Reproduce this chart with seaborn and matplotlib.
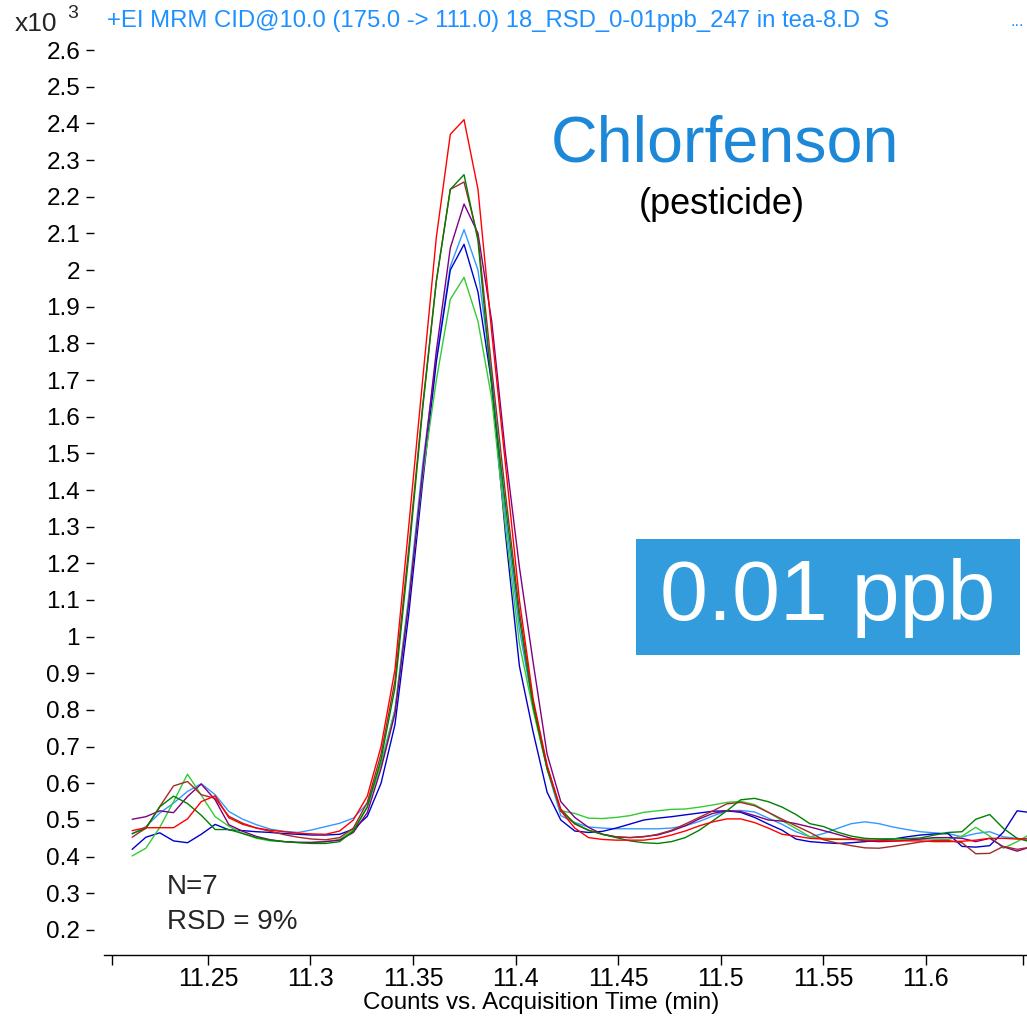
import matplotlib
matplotlib.use("Agg")
import matplotlib.pyplot as plt
from matplotlib.patches import Rectangle
import seaborn as sns
import pandas as pd

# acquisition times (min)
times = [11.2130, 11.2197, 11.2265, 11.2332, 11.2400, 11.2467, 11.2535, 11.2602, 11.2670, 11.2737,
         11.2805, 11.2872, 11.2940, 11.3007, 11.3074, 11.3142, 11.3209, 11.3277, 11.3344, 11.3412,
         11.3479, 11.3547, 11.3614, 11.3682, 11.3749, 11.3817, 11.3884, 11.3951, 11.4019, 11.4086,
         11.4154, 11.4221, 11.4289, 11.4356, 11.4424, 11.4491, 11.4559, 11.4626, 11.4693, 11.4761,
         11.4828, 11.4896, 11.4963, 11.5031, 11.5098, 11.5166, 11.5233, 11.5301, 11.5368, 11.5436,
         11.5503, 11.5570, 11.5638, 11.5705, 11.5773, 11.5840, 11.5908, 11.5975, 11.6043, 11.6110,
         11.6178, 11.6245, 11.6313, 11.6380, 11.6447, 11.6515]

# counts (x10^3), seven replicate injections
rep_lightblue = [0.462, 0.482, 0.519, 0.546, 0.578, 0.599, 0.569, 0.523, 0.502, 0.487,
                 0.475, 0.469, 0.466, 0.473, 0.482, 0.491, 0.505, 0.545, 0.655, 0.800,
                 1.110, 1.470, 1.760, 2.010, 2.110, 2.000, 1.710, 1.330, 1.020, 0.810,
                 0.640, 0.512, 0.493, 0.481, 0.478, 0.476, 0.476, 0.476, 0.476, 0.478,
                 0.484, 0.496, 0.511, 0.525, 0.526, 0.522, 0.505, 0.488, 0.468, 0.454,
                 0.463, 0.477, 0.490, 0.495, 0.490, 0.481, 0.474, 0.468, 0.465, 0.463,
                 0.454, 0.463, 0.468, 0.454, 0.450, 0.445]
rep_blue = [0.420, 0.453, 0.465, 0.443, 0.438, 0.461, 0.488, 0.473, 0.471, 0.468,
            0.466, 0.463, 0.461, 0.459, 0.459, 0.461, 0.475, 0.510, 0.600, 0.760,
            1.060, 1.420, 1.750, 2.000, 2.070, 1.940, 1.690, 1.280, 0.920, 0.740,
            0.576, 0.500, 0.470, 0.466, 0.469, 0.478, 0.489, 0.500, 0.505, 0.509,
            0.514, 0.519, 0.524, 0.525, 0.521, 0.507, 0.489, 0.472, 0.448, 0.441,
            0.438, 0.436, 0.438, 0.441, 0.445, 0.448, 0.454, 0.459, 0.462, 0.463,
            0.428, 0.426, 0.430, 0.467, 0.525, 0.520]
rep_lightgreen = [0.402, 0.423, 0.480, 0.550, 0.625, 0.568, 0.509, 0.483, 0.463, 0.450,
                  0.443, 0.441, 0.439, 0.438, 0.441, 0.447, 0.473, 0.536, 0.650, 0.800,
                  1.100, 1.440, 1.700, 1.920, 1.980, 1.860, 1.650, 1.300, 0.980, 0.800,
                  0.640, 0.525, 0.518, 0.505, 0.504, 0.507, 0.512, 0.521, 0.525, 0.529,
                  0.530, 0.535, 0.541, 0.548, 0.551, 0.542, 0.521, 0.498, 0.477, 0.454,
                  0.450, 0.449, 0.448, 0.448, 0.449, 0.449, 0.449, 0.448, 0.448, 0.447,
                  0.456, 0.480, 0.456, 0.423, 0.441, 0.463]
rep_purple = [0.502, 0.509, 0.525, 0.520, 0.564, 0.598, 0.555, 0.487, 0.469, 0.455,
              0.446, 0.441, 0.439, 0.439, 0.441, 0.445, 0.466, 0.520, 0.640, 0.790,
              1.090, 1.450, 1.780, 2.060, 2.180, 2.100, 1.860, 1.500, 1.190, 0.930,
              0.680, 0.550, 0.507, 0.480, 0.461, 0.454, 0.452, 0.455, 0.459, 0.470,
              0.484, 0.503, 0.518, 0.525, 0.523, 0.512, 0.500, 0.497, 0.490, 0.481,
              0.471, 0.461, 0.450, 0.443, 0.441, 0.442, 0.445, 0.448, 0.452, 0.452,
              0.450, 0.441, 0.450, 0.427, 0.415, 0.427]
rep_brown = [0.453, 0.478, 0.537, 0.593, 0.605, 0.569, 0.559, 0.510, 0.491, 0.478,
             0.469, 0.460, 0.453, 0.448, 0.446, 0.452, 0.478, 0.548, 0.680, 0.880,
             1.240, 1.630, 1.970, 2.220, 2.240, 2.090, 1.730, 1.390, 1.070, 0.820,
             0.645, 0.530, 0.489, 0.472, 0.461, 0.454, 0.452, 0.454, 0.461, 0.472,
             0.489, 0.507, 0.525, 0.544, 0.548, 0.539, 0.521, 0.502, 0.484, 0.466,
             0.446, 0.437, 0.430, 0.424, 0.423, 0.428, 0.434, 0.440, 0.444, 0.444,
             0.438, 0.408, 0.409, 0.428, 0.420, 0.426]
rep_darkgreen = [0.463, 0.477, 0.536, 0.565, 0.545, 0.513, 0.474, 0.474, 0.463, 0.452,
                 0.445, 0.441, 0.438, 0.436, 0.436, 0.441, 0.470, 0.535, 0.665, 0.860,
                 1.220, 1.620, 1.970, 2.220, 2.260, 2.080, 1.680, 1.360, 1.050, 0.810,
                 0.640, 0.525, 0.491, 0.472, 0.461, 0.452, 0.443, 0.438, 0.436, 0.441,
                 0.452, 0.472, 0.498, 0.525, 0.555, 0.559, 0.550, 0.535, 0.515, 0.490,
                 0.482, 0.467, 0.456, 0.450, 0.448, 0.448, 0.449, 0.451, 0.459, 0.466,
                 0.468, 0.502, 0.515, 0.477, 0.450, 0.440]
rep_red = [0.471, 0.479, 0.479, 0.479, 0.503, 0.550, 0.566, 0.506, 0.488, 0.478,
           0.472, 0.468, 0.464, 0.462, 0.461, 0.470, 0.500, 0.565, 0.700, 0.910,
           1.300, 1.700, 2.090, 2.370, 2.410, 2.220, 1.830, 1.470, 1.100, 0.830,
           0.650, 0.525, 0.478, 0.452, 0.447, 0.445, 0.445, 0.445, 0.450, 0.459,
           0.470, 0.484, 0.495, 0.503, 0.503, 0.493, 0.478, 0.461, 0.456, 0.450,
           0.448, 0.447, 0.447, 0.445, 0.444, 0.443, 0.443, 0.443, 0.441, 0.441,
           0.442, 0.445, 0.450, 0.450, 0.448, 0.450]

replicates = {
    "rep1": rep_lightblue,
    "rep2": rep_blue,
    "rep3": rep_lightgreen,
    "rep4": rep_purple,
    "rep5": rep_brown,
    "rep6": rep_darkgreen,
    "rep7": rep_red,
}
colors = {
    "rep1": "#3399ff",
    "rep2": "#0000cc",
    "rep3": "#33cc33",
    "rep4": "#800080",
    "rep5": "#a52a2a",
    "rep6": "#008000",
    "rep7": "#ff0000",
}

yticks = [0.2, 0.3, 0.4, 0.5, 0.6, 0.7, 0.8, 0.9, 1.0, 1.1, 1.2, 1.3, 1.4,
          1.5, 1.6, 1.7, 1.8, 1.9, 2.0, 2.1, 2.2, 2.3, 2.4, 2.5, 2.6]
xticks = [11.25, 11.3, 11.35, 11.4, 11.45, 11.5, 11.55, 11.6]
xend_ticks = [11.2032, 11.6476]

df = pd.concat([pd.DataFrame({"time": times, "counts": v, "sample": k})
                for k, v in replicates.items()], ignore_index=True)

sns.set_theme(style="white")
plt.rcParams["font.family"] = ["Liberation Sans", "DejaVu Sans"]

W, H = 1027, 1017
fig = plt.figure(figsize=(W / 100, H / 100), dpi=100)
ax = fig.add_axes([94 / W, 1 - 955 / H, (W - 94) / W, (955 - 40) / H])

sns.lineplot(data=df, x="time", y="counts", hue="sample", palette=colors,
             estimator=None, sort=False, linewidth=1.0, legend=False, ax=ax)

ax.set_xlim(11.1944, 11.6495)
ax.set_ylim(0.1318, 2.6273)

ax.set_yticks(yticks)
ax.set_yticklabels([f"{v:g}" for v in yticks], fontsize=17.5)
ax.set_xticks(xticks)
ax.set_xticklabels([f"{v:g}" for v in xticks], fontsize=18)
ax.set_xticks(xend_ticks, minor=True)
ax.tick_params(axis="y", left=True, direction="out", color="black",
               length=6, width=1, pad=4, labelcolor="black")
ax.tick_params(axis="x", which="both", bottom=True, direction="out", color="black",
               length=7, width=1, pad=2, labelcolor="black")

for side in ["top", "right", "left"]:
    ax.spines[side].set_visible(False)
ax.spines["bottom"].set_color("black")
ax.spines["bottom"].set_linewidth(1)
ax.spines["bottom"].set_bounds(11.1993, 11.6495)

ax.set_xlabel("Counts vs. Acquisition Time (min)", fontsize=17.4, color="black")
ax.xaxis.set_label_coords(0.479, -0.040)
ax.set_ylabel("")

# header
fig.text(15 / W, 1 - 24 / H, "x10", fontsize=19, va="center", ha="left")
fig.text(67 / W, 1 - 13 / H, "3", fontsize=14, va="center", ha="left")
fig.text(107 / W, 1 - 21 / H,
         "+EI MRM CID@10.0 (175.0 -> 111.0) 18_RSD_0-01ppb_247 in tea-8.D  S",
         fontsize=17.2, color="#1e90ff", va="center", ha="left")
fig.text(1010 / W, 1 - 22 / H, "...", fontsize=12, color="#1e90ff", va="center", ha="left")

# annotations
fig.text(725 / W, 1 - 144 / H, "Chlorfenson", fontsize=46.5,
         color="#1e88d8", ha="center", va="center")
fig.text(722 / W, 1 - 205 / H, "(pesticide)", fontsize=26,
         color="black", ha="center", va="center")
ax.add_patch(Rectangle((636 / W, 1 - 655 / H), (1020 - 636) / W, (655 - 539) / H,
                       transform=fig.transFigure, facecolor="#339cdc",
                       edgecolor="none", zorder=5))
fig.text(828 / W, 1 - 598 / H, "0.01 ppb", fontsize=62, color="white",
         ha="center", va="center", zorder=6)
fig.text(167 / W, 1 - 887 / H, "N=7", fontsize=20, ha="left", va="center")
fig.text(167 / W, 1 - 922 / H, "RSD = 9%", fontsize=20, ha="left", va="center")

fig.savefig("out.png", dpi=100)
